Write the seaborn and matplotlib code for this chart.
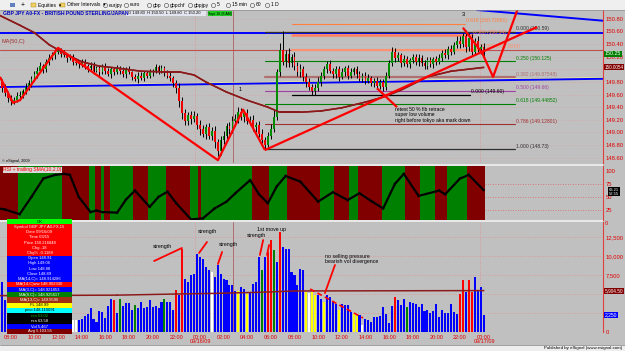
import numpy as np
import pandas as pd
import matplotlib
matplotlib.use("Agg")
import matplotlib.pyplot as plt
import matplotlib.transforms as mtrans
from matplotlib.patches import Rectangle, Polygon
import seaborn as sns

# ---------------- data ----------------
open0 = 149.86
close = [149.80, 149.70, 149.62, 149.55, 149.50, 149.52, 149.58, 149.60, 149.65, 149.72,
         149.78, 149.85, 149.92, 149.98, 150.05, 150.00, 150.12, 150.18, 150.22, 150.28,
         150.30, 150.25, 150.22, 150.18, 150.20, 150.12, 150.10, 150.08, 150.12, 150.05,
         150.02, 150.06, 149.98, 150.02, 149.96, 150.04, 149.97, 149.93, 150.00, 149.95,
         150.02, 149.98, 149.92, 150.00, 149.95, 149.88, 149.85, 149.90, 149.86, 149.94,
         149.90, 149.96, 149.98, 150.03, 149.97, 150.02, 149.95, 149.90, 149.86, 149.78,
         149.70, 149.50, 149.30, 149.18, 149.28, 149.22, 149.26, 149.12, 149.05, 148.98,
         149.08, 148.95, 149.02, 148.85, 148.70, 148.88, 148.95, 149.10, 149.05, 149.18,
         149.22, 149.32, 149.25, 149.30, 149.18, 149.20, 149.08, 149.12, 148.98, 148.88,
         148.80, 148.95, 149.05, 149.25, 149.95, 150.30, 150.12, 150.25, 150.10, 150.20,
         150.05, 149.95, 150.00, 149.88, 149.80, 149.72, 149.66, 149.70, 149.80, 149.90,
         150.00, 150.08, 149.98, 149.92, 150.00, 149.88, 149.95, 150.02, 149.90, 149.96,
         150.00, 149.92, 149.85, 149.90, 149.82, 149.86, 149.78, 149.82, 149.74, 149.80,
         149.72, 149.90, 150.10, 150.28, 150.18, 150.22, 150.10, 150.16, 150.08, 150.14,
         150.20, 150.12, 150.18, 150.10, 150.06, 150.14, 150.08, 150.16, 150.12, 150.18,
         150.26, 150.22, 150.32, 150.28, 150.38, 150.45, 150.40, 150.52, 150.35, 150.50,
         150.28, 150.45, 150.32, 150.36, 150.25]
hi_ext = [5, 4, 6, 3, 5, 4, 6, 5, 4, 6, 5, 4, 6, 5, 7, 4, 5, 6, 5, 4,
          6, 4, 5, 3, 5, 4, 6, 3, 5, 4, 4, 6, 5, 3, 5, 4, 6, 5, 3, 4,
          5, 3, 6, 4, 5, 3, 4, 6, 5, 3, 4, 5, 3, 6, 4, 5, 3, 4, 5, 4,
          5, 8, 6, 7, 5, 6, 8, 5, 7, 6, 5, 7, 6, 8, 5, 6, 7, 5, 6, 8,
          7, 9, 6, 5, 7, 6, 8, 5, 6, 7, 5, 6, 8, 10, 5, 12, 30, 6, 8, 5,
          7, 6, 8, 5, 6, 7, 5, 6, 8, 5, 6, 5, 7, 4, 6, 5, 7, 4, 5, 6,
          4, 5, 6, 4, 5, 6, 4, 5, 6, 4, 5, 6, 5, 8, 6, 5, 4, 6, 5, 4,
          5, 4, 6, 5, 4, 6, 5, 4, 5, 6, 5, 6, 5, 6, 5, 7, 8, 6, 10, 8,
          6, 5, 7, 4, 5]
lo_ext = [5, 6, 4, 7, 6, 5, 4, 6, 5, 4, 5, 6, 4, 5, 3, 6, 4, 5, 4, 6,
          4, 5, 3, 6, 4, 5, 3, 6, 4, 5, 6, 4, 5, 3, 6, 4, 5, 3, 6, 4,
          3, 5, 4, 6, 3, 5, 4, 6, 3, 5, 4, 3, 6, 4, 5, 3, 6, 4, 5, 6,
          8, 10, 9, 7, 6, 8, 5, 7, 9, 6, 8, 6, 7, 9, 8, 6, 7, 5, 8, 6,
          5, 7, 6, 8, 5, 7, 6, 8, 6, 5, 7, 6, 5, 4, 5, 6, 5, 8, 6, 7,
          6, 5, 7, 6, 8, 5, 7, 6, 5, 6, 5, 6, 4, 6, 5, 7, 4, 5, 6, 4,
          5, 6, 4, 5, 6, 4, 5, 6, 4, 5, 6, 5, 4, 5, 6, 5, 6, 4, 5, 6,
          4, 5, 6, 4, 6, 5, 4, 6, 5, 4, 5, 4, 6, 5, 4, 5, 6, 5, 8, 6,
          7, 6, 5, 8, 6]
volume = [7100, 6600, 4200, 3800, 5100, 4600, 3900, 4400, 5200, 4800,
          3600, 4100, 3300, 2900, 3500, 3100, 2800, 3400, 2600, 3000,
          2400, 2700, 2200, 2500, 2000, 1630, 1540, 1540, 1760, 2110,
          2420, 3210, 1670, 1320, 2760, 2630, 1840, 3420, 4390, 4170,
          2500, 4390, 3420, 3860, 3860, 2850, 3550, 3120, 3950, 3210,
          3340, 4170, 3340, 3420, 3210, 3950, 4300, 4000, 4000, 2850,
          5490, 4830, 10970, 7020, 6580, 7460, 7680, 10320, 9870, 9650,
          8550, 8110, 7900, 7240, 8770, 7680, 7020, 6800, 6140, 6140,
          5350, 5350, 5920, 5710, 5050, 5260, 6360, 6580, 9870, 8110,
          9870, 10530, 12070, 10750, 9210, 13160, 11190, 10970, 10970, 7900,
          7460, 6140, 8340, 8200, 5260, 5180, 5260, 4830, 4830, 4390,
          3950, 4830, 4610, 4040, 3730, 2850, 3730, 3510, 3510, 2630,
          2420, 2420, 2190, 880, 1760, 1540, 1320, 1980, 1980, 2070,
          3290, 2420, 1190, 3380, 4610, 4260, 3510, 4390, 3290, 3950,
          3820, 3730, 3290, 3730, 2770, 2850, 2500, 2770, 3640, 1980,
          2940, 2500, 2500, 3640, 2630, 2420, 5050, 6800, 5260, 6800,
          5260, 7240, 5490, 5920, 2250]
vol_codes = ("bbbbbbbbbb" "bbbbbbbbbb" "bbbbbwwbbb" "bbbbbbbbbr" "bgbbbbgbbb"
             "bbbbbbgbbb" "rbrbbbbbbb" "bbwbbbbbbb" "bybbybbbbg" "brrgbrbbbb"
             "bbbbywyybb" "ybbbbybbbb" "yybwbbbbbb" "bbbbrbbbgb" "bbbbbbbbbb"
             "bbbbbbrrbr" "rbbbb")
vol_ma_i = [0, 40, 60, 75, 90, 100, 164]
vol_ma_v = [4780, 4850, 5000, 5100, 5250, 5400, 5450]

ma_i = [0, 7, 12, 17, 23, 28, 34, 40, 48, 55, 61, 66, 70, 77, 84, 91, 95, 102, 109,
        116, 124, 130, 136, 145, 153, 164]
ma_p = [150.86, 150.70, 150.58, 150.39, 150.23, 150.12, 150.05, 150.02, 149.97, 149.96,
        149.96, 149.91, 149.80, 149.64, 149.51, 149.40, 149.32, 149.32, 149.34, 149.39,
        149.48, 149.56, 149.67, 149.88, 149.97, 150.03]

rsi_i = [0, 2, 7, 11, 15, 19, 22, 24, 27, 31, 33, 35, 40, 43, 46, 51, 54, 57, 60, 65,
         69, 73, 77, 80, 85, 88, 91, 94, 97, 102, 108, 113, 118, 122, 126, 130, 134,
         137, 142, 149, 151, 156, 159, 164]
rsi_v = [28, 26, 17, 50, 85, 92, 94, 92, 50, 21, 24, 21, 20, 45, 62, 31, 50, 60, 38, 7,
         9, 28, 41, 57, 82, 55, 38, 70, 90, 79, 41, 59, 44, 57, 42, 28, 75,
         94, 52, 62, 55, 85, 92, 63]
band_edges = [-0.5, 6.5, 21.5, 30.5, 32.5, 34.5, 35.5, 37.5, 45.5, 50.5, 56.5, 64.5,
              67.5, 68.5, 85.5, 91.5, 97.5, 108.5, 113.5, 118.5, 121.5, 129.5, 137.5,
              142.5, 147.5, 151.5, 158.5, 164.5]

fib_levels = [150.59, 150.125, 149.87548, 149.66, 149.44852, 149.12801, 148.73]
fib_labels = ["0.000 (150.59)", "0.250 (150.125)", "0.382 (149.87548)", "0.500 (149.66)",
              "0.618 (149.44852)", "0.786 (149.12801)", "1.000 (148.73)"]
ext_levels = [150.72091, 150.54, 150.31]
ext_labels = ["0.618 (150.72091)", "0.500 (150.54)", "0.382 (150.3914)"]

zig_i = [0.35, 4.75, 7.1, 20.0, 74.1, 82.6, 90.0]
zig_p = [149.88, 149.47, 149.51, 150.34, 148.56, 149.36, 148.72]
trend_i = [90.0, 182.1]
trend_p = [148.72, 150.67]
proj_i = [157.0, 163.5, 167.2, 175.8]
proj_p = [150.66, 150.26, 149.88, 150.99]
cross_i = [127.9, 134.7]
cross_p = [149.70, 149.40]

hour_ticks = list(range(4, 165, 8))
hour_labels = ["08:00", "10:00", "12:00", "14:00", "16:00", "18:00", "20:00", "22:00",
               "00:00", "02:00", "04:00", "06:00", "08:00", "10:00", "12:00", "14:00",
               "16:00", "18:00", "20:00", "22:00", "00:00"]
price_ticks = [148.60, 148.80, 149.00, 149.20, 149.40, 149.60, 149.80, 150.00,
               150.20, 150.40, 150.60, 150.80]
price_hidden = [150.00]
vol_ticks = [0, 2500, 5000, 7500, 10000, 12500]
vol_hidden = [2500, 5000]
rsi_ticks = [25, 50, 75, 100]

# ---------------- style ----------------
sns.set_theme(style="white")
plt.rcParams['font.family'] = ['Liberation Sans', 'DejaVu Sans']
BG = "#c0c0c0"
RED = "#e00000"
W, H = 625, 351
fig = plt.figure(figsize=(W / 100, H / 100), dpi=100, facecolor=BG)


def add_ax(x0, y0, x1, y1, **kw):
    return fig.add_axes([x0 / W, 1 - y1 / H, (x1 - x0) / W, (y1 - y0) / H], **kw)


def ribbon(ax, xs, ys, width_px, px_w, px_h, color, z):
    """Draw a polyline as filled segment quads of constant pixel width."""
    xa, xb = ax.get_xlim()
    ya, yb = ax.get_ylim()
    sx = px_w / (xb - xa)
    sy = px_h / (yb - ya)
    xs = np.asarray(xs, dtype=float)
    ys = np.asarray(ys, dtype=float)
    hw = width_px / 2.0
    for k in range(len(xs) - 1):
        dx = (xs[k + 1] - xs[k]) * sx
        dy = (ys[k + 1] - ys[k]) * sy
        L = float(np.hypot(dx, dy))
        if L == 0:
            continue
        ox, oy = (-dy / L * hw) / sx, (dx / L * hw) / sy
        ex, ey = (dx / L * hw) / sx, (dy / L * hw) / sy
        pts = [(xs[k] - ex + ox, ys[k] - ey + oy), (xs[k + 1] + ex + ox, ys[k + 1] + ey + oy),
               (xs[k + 1] + ex - ox, ys[k + 1] + ey - oy), (xs[k] - ex - ox, ys[k] - ey - oy)]
        ax.add_patch(Polygon(pts, closed=True, fc=color, ec='none', lw=0, zorder=z))


XL = (0.352, 204.4)
PRICE_YL = (148.515, 150.94)
RSI_YL = (5.9, 109)
VOL_YL = (0, 14476)
axp = add_ax(0, 10, 603, 163)
axr = add_ax(0, 166, 603, 220)
axv = add_ax(0, 222, 603, 332)
for ax in (axp, axr, axv):
    ax.set_facecolor(BG)
    for s in ('top', 'left', 'bottom'):
        ax.spines[s].set_visible(False)
    ax.spines['right'].set_color('#e04040')
    ax.spines['right'].set_linewidth(0.8)
    ax.yaxis.tick_right()
    ax.tick_params(axis='y', colors=RED, labelsize=4.2, length=0, pad=2)
    ax.tick_params(axis='x', length=0)
    ax.grid(False)
    ax.set_xlim(*XL)
axp.set_ylim(*PRICE_YL)
axr.set_ylim(*RSI_YL)
axv.set_ylim(*VOL_YL)

idx = np.arange(len(close))

# ---------------- price panel ----------------
axp.hlines(price_ticks, XL[0], XL[1], colors='#d4a4a4', linestyles=(0, (1, 2)), lw=0.6, zorder=0.5)
for xv, st, col in [(66.3, ':', '#e09090'), (79.2, '-', '#b06060'), (162.8, ':', '#e09090')]:
    for a_ in (axp, axv):
        a_.axvline(xv, color=col, ls=st, lw=0.6, zorder=0.6)

axp.plot([XL[0], XL[1]], [150.594, 150.594], color='#ffff90', lw=0.8, zorder=1)
axp.plot([XL[0], XL[1]], [150.578, 150.578], color='#0000ff', lw=1.4, zorder=1.1)
axp.plot([XL[0], XL[1]], [149.735, 149.865], color='#ffff90', lw=0.8, zorder=1)
axp.plot([XL[0], XL[1]], [149.72, 149.85], color='#0000ff', lw=1.4, zorder=1.1)
axp.plot([161.8, XL[1]], [150.94, 150.77], color='#0000ff', lw=1.4, zorder=1.1)
axp.plot([XL[0], XL[1]], [150.31, 150.31], color='#c05050', lw=0.8, zorder=1)

fib_cols = ['#303030', '#008000', '#b07070', '#a040a0', '#008000', '#a03030', '#303030']
fib_lw = [0.9, 0.8, 1.6, 0.8, 0.8, 0.8, 0.9]
for lv, lab, c, lw in zip(fib_levels, fib_labels, fib_cols, fib_lw):
    axp.plot([90, 174.6], [lv, lv], color=c, lw=lw, zorder=1.2)
    axp.text(174.9, lv + 0.01, lab, color=c, fontsize=3.6, ha='left', va='bottom', zorder=1.3)
axp.plot([99.2, 159.4], [149.60, 149.60], color='black', lw=0.9, zorder=1.2)
axp.text(159.6, 149.61, "0.000 (149.60)", color='black', fontsize=3.6, ha='left', va='bottom')
ext_cols = ['#ff8040', '#ff8060', '#ff9070']
ext_end = [157.7, 160.0, 163.0]
ext_lw = [0.8, 1.8, 1.5]
for lv, lab, c, e, lw in zip(ext_levels, ext_labels, ext_cols, ext_end, ext_lw):
    axp.plot([99.2, e], [lv, lv], color=c, lw=lw, zorder=1.2)
    axp.text(e + 0.5, lv + 0.01, lab, color=c, fontsize=3.6, ha='left', va='bottom', zorder=1.3)

opens = np.array([open0] + close[:-1])
closes = np.array(close)
highs = np.maximum(opens, closes) + np.array(hi_ext) / 100
lows = np.minimum(opens, closes) - np.array(lo_ext) / 100
body_bot = np.minimum(opens, closes)
body_h = np.maximum(np.abs(closes - opens), 0.015)
body_col = ['#008c00' if c >= o else '#ee0000' for o, c in zip(opens, closes)]
axp.vlines(idx, lows, highs, colors='black', lw=0.7, zorder=3)
axp.bar(idx, body_h, bottom=body_bot, width=0.6, color=body_col, lw=0, zorder=3.1)

ma_df = pd.DataFrame({'i': ma_i, 'p': ma_p})
sns.lineplot(data=ma_df, x='i', y='p', ax=axp, color='#8c1a1a', lw=1.1, zorder=4)
axp.set_xlim(*XL)
axp.set_ylim(*PRICE_YL)
ribbon(axp, ma_i, ma_p, 1.5, 603, 153, '#8c1a1a', 4)

for xs, ys in [(zig_i, zig_p), (trend_i, trend_p), (proj_i, proj_p), (cross_i, cross_p)]:
    axp.plot(xs, ys, color='#ff0000', lw=1.6, zorder=5, solid_capstyle='butt')

axp.text(81.6, 149.66, "1", fontsize=4, color='black', ha='center', zorder=6)
axp.text(157.0, 150.84, "3", fontsize=4, color='black', ha='center', zorder=6)
axp.text(134.0, 149.41, "retest 50 % fib retrace\nsuper low volume\nright before tokyo aka mark down",
         fontsize=3.6, color='black', ha='left', va='top', linespacing=1.2, zorder=6)

axp.set_xlim(*XL)
axp.set_ylim(*PRICE_YL)
axp.set_yticks(price_ticks)
axp.set_yticklabels(["" if v in price_hidden else f"{v:.2f}" for v in price_ticks])
axp.set_xticks([])
axp.set_xlabel('')
axp.set_ylabel('')

tp = mtrans.blended_transform_factory(axp.transAxes, axp.transData)
axp.text(1.003, 150.25, "150.25", transform=tp, fontsize=3.8, color='white', va='center', ha='left',
         bbox=dict(boxstyle='square,pad=0.1', fc='#008000', ec='none'), clip_on=False, zorder=8)
axp.text(1.003, 150.03, "150.0054", transform=tp, fontsize=3.3, color='white', va='center', ha='left',
         bbox=dict(boxstyle='square,pad=0.1', fc='#800000', ec='none'), clip_on=False, zorder=8)

# ---------------- RSI panel ----------------
axr.hlines([25, 50, 75], XL[0], XL[1], colors='#e06060', linestyles=(0, (1, 2)), lw=0.6, zorder=0.5)
for k in range(len(band_edges) - 1):
    axr.axvspan(band_edges[k], band_edges[k + 1], color='#800000' if k % 2 == 0 else '#008000',
                lw=0, zorder=1)
axr.set_xlim(*XL)
axr.set_ylim(*RSI_YL)
ribbon(axr, rsi_i, rsi_v, 2.2, 603, 54, 'black', 3)
axr.set_yticks(rsi_ticks)
axr.set_yticklabels([str(v) for v in rsi_ticks])
axr.set_xticks([])
tr = mtrans.blended_transform_factory(axr.transAxes, axr.transData)
axr.text(1.01, 60, "63.21\n52.55", transform=tr, fontsize=3.0, color='white', va='center', ha='left',
         linespacing=1.0, bbox=dict(boxstyle='square,pad=0.15', fc='black', ec='none'), clip_on=False)

# ---------------- volume panel ----------------
axv.hlines(vol_ticks[1:], XL[0], XL[1], colors='#e09090', linestyles=(0, (1, 2)), lw=0.6, zorder=0.5)
cmap = {'b': '#0000ff', 'r': '#ff0000', 'g': '#008000', 'y': '#ffff00', 'w': '#ffffff'}
axv.bar(idx, volume, width=0.7, color=[cmap[c] for c in vol_codes], lw=0, zorder=3)
axv.set_xlim(*XL)
axv.set_ylim(*VOL_YL)
ribbon(axv, vol_ma_i, vol_ma_v, 1.5, 603, 110, '#8c1a1a', 5)

ann = dict(fontsize=3.8, color='black', ha='center', va='center', zorder=7)
axv.text(55.2, 11200, "strength", **ann)
axv.text(70.4, 13160, "strength", **ann)
axv.text(77.5, 11580, "strength", **ann)
axv.text(87.3, 12634, "strength", **ann)
axv.text(92.1, 13500, "1st move up", **ann)
axv.text(110.3, 10000, "no selling pressure", fontsize=3.8, color='black', ha='left', va='center')
axv.text(110.3, 9212, "bearish vol divergence", fontsize=3.8, color='black', ha='left', va='center')
for (a, b), (c, d) in [((52.5, 9344), (61.9, 11054)), ((67.7, 10396), (70.4, 11844)),
                       ((74.1, 8949), (75.5, 10528)), ((88.3, 10133), (89.4, 12107)),
                       ((90.7, 10133), (91.4, 11449)), ((113.7, 8817), (110.3, 5132))]:
    axv.plot([a, c], [b, d], color='#ff0000', lw=1.3, zorder=6)
axv.plot([105.3, 123.2], [5659, 1842], color='#ff0000', lw=1.2, ls=(0, (3, 2)), zorder=6)

axv.set_xlim(*XL)
axv.set_ylim(*VOL_YL)
axv.set_yticks(vol_ticks)
axv.set_yticklabels(["" if v in vol_hidden else f"{v:,}" for v in vol_ticks])
axv.set_xticks(hour_ticks)
axv.set_xticklabels(hour_labels)
axv.tick_params(axis='x', colors=RED, labelsize=4.0, length=0, pad=2)

tv = mtrans.blended_transform_factory(axv.transAxes, axv.transData)
axv.text(1.003, 5450, "5,904.50", transform=tv, fontsize=3.4, color='white', va='center', ha='left',
         bbox=dict(boxstyle='square,pad=0.1', fc='#800000', ec='none'), clip_on=False, zorder=8)
axv.text(1.003, 2250, "2,250", transform=tv, fontsize=3.6, color='white', va='center', ha='left',
         bbox=dict(boxstyle='square,pad=0.1', fc='#0000ff', ec='none'), clip_on=False, zorder=8)

# ---------------- overlay (chrome) ----------------
ov = fig.add_axes([0, 0, 1, 1], zorder=20)
ov.set_xlim(0, W)
ov.set_ylim(H, 0)
ov.axis('off')

ov.add_patch(Rectangle((0, 0), W, 10, fc='#efefef', ec='none'))
ov.plot([0, W], [10, 10], color='#909090', lw=0.5)
tb = dict(fontsize=3.6, color='black', va='center', ha='left')
ov.add_patch(Rectangle((10, 3), 5, 4, fc='#6080c0', ec='none'))
ov.text(21, 5, "+", fontsize=5, color='black', va='center', ha='left')
ov.add_patch(Rectangle((31, 3), 5, 4, fc='#f0d060', ec='#a08020', lw=0.3))
ov.text(38, 5, "Equities  \u25be", **tb)
ov.add_patch(Rectangle((60, 3), 5, 4, fc='#f0d060', ec='#a08020', lw=0.3))
ov.text(67, 5, "Other Intervals  \u25be", **tb)
for cx, lab in [(105, "eurjpy"), (126, "euro"), (149, "gbp"), (166, "gbpchf"),
                (190, "gbpjpy"), (213, "5"), (228, "15 min"), (252, "60"), (267, "1 D")]:
    ov.plot([cx], [5], marker='o', ms=3, mfc='none', mec='#404040', mew=0.4)
    ov.text(cx + 4, 5, lab, **tb)

ov.text(3, 13.5, "GBP JPY A0-FX - BRITISH POUND STERLING/JAPAN", fontsize=3.6, color='#0000c0',
        fontweight='bold', va='center', ha='left')
ov.add_patch(Rectangle((126, 11), 80, 5, fc='#e4e4ee', ec='none'))
ov.text(128, 13.5, "O 149.80  H 150.50  L 149.80  C 150.20", fontsize=3.0, color='black',
        va='center', ha='left')
ov.add_patch(Rectangle((208, 11), 24, 5, fc='#20d020', ec='none'))
ov.text(220, 13.5, "Sept 16 (6 AM)", fontsize=2.6, color='black', va='center', ha='center')
ov.text(2, 42, "MA(50,C)", fontsize=4.0, color='#a03030', va='center', ha='left')
ov.text(2, 161, "\u00a9 eSignal, 2009", fontsize=2.8, color='black', va='center', ha='left')

ov.add_patch(Rectangle((0, 163.5), 603, 2, fc='#e8e8e8', ec='none'))
ov.add_patch(Rectangle((0, 220.3), 603, 1.5, fc='#e8e8e8', ec='none'))
ov.text(3, 170, "RSI + trailing SMA(10,2,0)", fontsize=3.6, color='#ff0000', va='center', ha='left',
        bbox=dict(boxstyle='square,pad=0.1', fc='#d8d8d8', ec='none'))
ov.text(605, 223.5, "0", fontsize=4.0, color=RED, va='center', ha='left')

rows = [("OK", "#00ff00", "black"),
        ("Symbol GBP JPY A0-FX,15", "#ff0000", "white"),
        ("Date 09/16/09", "#ff0000", "white"),
        ("Time 03/15", "#ff0000", "white"),
        ("Price 150.216848", "#ff0000", "white"),
        ("Chg -18", "#ff0000", "white"),
        ("Chg% -0.1189", "#ff0000", "white"),
        ("Open 148.91", "#0000ff", "white"),
        ("High 149.06", "#0000ff", "white"),
        ("Low 148.88", "#0000ff", "white"),
        ("Close 148.89", "#0000ff", "white"),
        ("MA(14,C)= 148.914286", "#0000ff", "white"),
        ("MA(14,C)ww 148.902330", "#ff0000", "white"),
        ("MA(3,C)= 148.921853", "#0000ff", "white"),
        ("MA(8,C)= 148.925617", "#008000", "white"),
        ("MA(13,C)= 149.5596", "#a03010", "white"),
        ("FL 148.99", "#ffff00", "black"),
        ("pivo 148.110091", "#00ffff", "black"),
        ("rsa 53.02", "black", "#00c000"),
        ("rsa 63.58", "black", "white"),
        ("Vol 5,467", "#0000ff", "white"),
        ("Avg 5,103.55", "#800000", "white")]
y0, y1 = 219.0, 334.0
rh = (y1 - y0) / len(rows)
for k, (t, bg, fg) in enumerate(rows):
    ov.add_patch(Rectangle((7, y0 + k * rh), 65, rh, fc=bg, ec='none'))
    ov.text(39.5, y0 + (k + 0.5) * rh, t, color=fg, fontsize=3.0, ha='center', va='center')

ov.text(200, 341.5, "09/16/09", fontsize=4.0, color=RED, ha='center', va='center')
ov.text(485, 341.5, "09/17/09", fontsize=4.0, color=RED, ha='center', va='center')
ov.add_patch(Rectangle((0, 345), W, 6, fc='#eeeeee', ec='none'))
ov.plot([0, W], [345, 345], color='#808080', lw=0.5)
ov.text(622, 348, "Published by eSignal (www.esignal.com)", fontsize=3.2, color='black',
        ha='right', va='center')

fig.savefig("out.png", dpi=100, facecolor=BG)
